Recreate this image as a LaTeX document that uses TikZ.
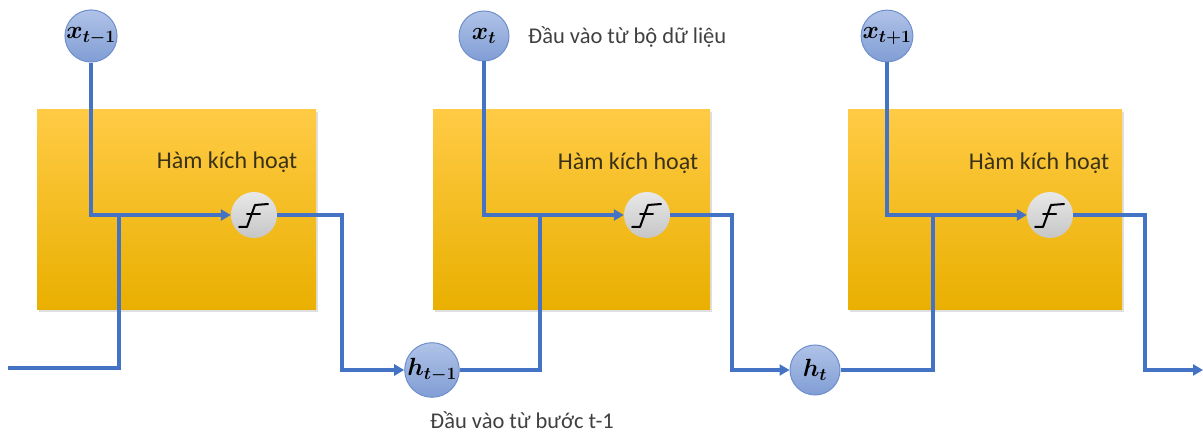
\documentclass[tikz,border=0pt]{standalone}
\usepackage{fontspec}
\setmainfont{Carlito}
\usetikzlibrary{arrows.meta, shadows, calc}

\definecolor{flowblue}{HTML}{4472C4}
\definecolor{goldtop}{HTML}{FFCB45}
\definecolor{goldmid}{HTML}{FFC000}
\definecolor{goldbot}{HTML}{E9AF00}
\definecolor{inputtop}{HTML}{B0C3E8}
\definecolor{inputbot}{HTML}{809DD4}
\definecolor{inputrim}{HTML}{6F8FCC}
\definecolor{acttop}{HTML}{E8E8E8}
\definecolor{actbot}{HTML}{C6C6C6}
\definecolor{textgray}{HTML}{404040}
\definecolor{titlebrown}{HTML}{3A3218}

\tikzset{
    cell/.style={rectangle, draw=none, top color=goldtop, middle color=goldmid, bottom color=goldbot,
        drop shadow={shadow xshift=1.5pt, shadow yshift=-2.5pt, opacity=0.25}},
    input/.style={circle, minimum size=50pt, inner sep=0pt, draw=inputrim, line width=1pt,
        top color=inputtop, bottom color=inputbot, font=\fontsize{23}{25}\selectfont\boldmath},
    act/.style={circle, minimum size=46pt, inner sep=0pt, draw=none, top color=acttop, bottom color=actbot},
    line/.style={draw=flowblue, line width=3.6pt},
    flow/.style={line, -{Triangle[length=10pt, width=11pt]}},
    note/.style={font=\fontsize{22.5}{25}\selectfont, text=textgray, inner sep=0pt},
    title/.style={font=\fontsize{24}{27}\selectfont, text=titlebrown, inner sep=0pt},
    stepglyph/.pic={
        \draw[black, line width=2pt, line cap=round, line join=round]
            (-15,-12) -- (-7,-12) -- (1,10) -- (14,11);
        \draw[black, line width=2pt, line cap=round] (-7,1) -- (6,1);
    }
}

\begin{document}
\begin{tikzpicture}[x=1pt, y=1pt]
    \useasboundingbox (0,0) rectangle (1203,434);

    % the three cells
    \node[cell, minimum width=279pt, minimum height=200pt] (blk1) at (176.5,224) {};
    \node[cell, minimum width=277pt, minimum height=200pt] (blk2) at (571.5,224) {};
    \node[cell, minimum width=274pt, minimum height=200pt] (blk3) at (985,224) {};

    \node[title] (ttl1) at (227,272) {Hàm kích hoạt};
    \node[title] (ttl2) at (628,271) {Hàm kích hoạt};
    \node[title] (ttl3) at (1039,271) {Hàm kích hoạt};

    \node[act] (act1) at (254,219) {};
    \node[act] (act2) at (647,219) {};
    \node[act] (act3) at (1050,219) {};
    \pic at (act1) {stepglyph};
    \pic at (act2) {stepglyph};
    \pic at (act3) {stepglyph};

    % inputs and hidden states
    \node[input] (x1) at (91,398) {$x_{t-1}$};
    \node[input] (x2) at (484,398) {$x_t$};
    \node[input] (x3) at (887,398) {$x_{t+1}$};
    \node[input] (h1) at (432,64) {$h_{t-1}$};
    \node[input] (h2) at (815,64) {$h_t$};

    \node[note, anchor=west] (lblx) at (528,397) {Đầu vào từ bộ dữ liệu};
    \node[note, anchor=west] (lblh) at (430,14) {Đầu vào từ bước t-1};

    \coordinate (in0) at (8,66);
    \coordinate (j1) at (119,219);
    \coordinate (j2) at (540,219);
    \coordinate (j3) at (933,219);
    \coordinate (o1) at (342,219);
    \coordinate (o2) at (732,219);
    \coordinate (o3) at (1145,219);
    \coordinate (out) at (1203,64);

    % connectors
    \draw[line] (in0) -| (j1);
    \draw[line] (h1) -| (j2);
    \draw[line] (h2) -| (j3);

    \draw[flow] (x1) |- (act1);
    \draw[flow] (x2) |- (act2);
    \draw[flow] (x3) |- (act3);

    \draw[flow] (act1) -- (o1) |- (h1);
    \draw[flow] (act2) -- (o2) |- (h2);
    \draw[flow] (act3) -- (o3) |- (out);

\end{tikzpicture}
\end{document}
